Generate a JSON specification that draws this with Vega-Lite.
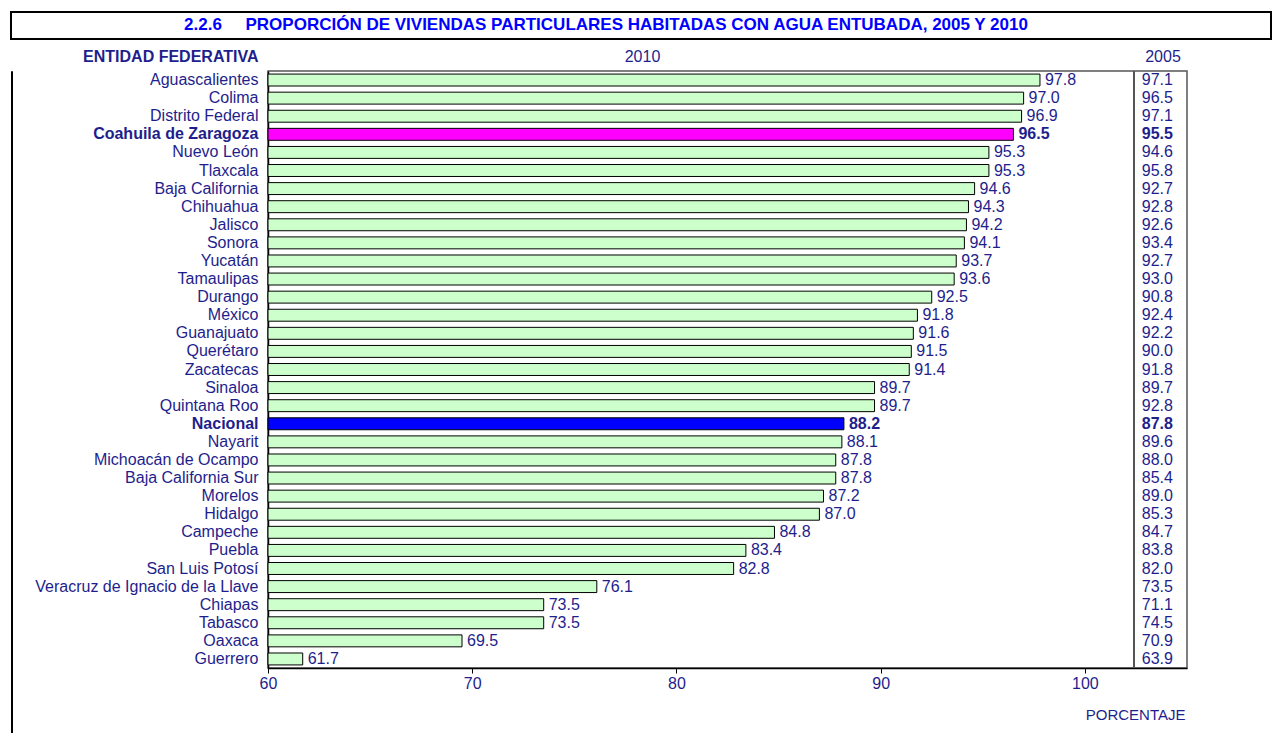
{
  "$schema": "https://vega.github.io/schema/vega-lite/v6.json",
  "padding": {"left": 10, "top": 11, "right": 0, "bottom": 0},
  "config": {"font": "Liberation Sans", "text": {"font": "Liberation Sans"}},
  "datasets": {
    "titulo": [{"t": "2.2.6\u00a0\u00a0\u00a0\u00a0 PROPORCIÓN DE VIVIENDAS PARTICULARES HABITADAS CON AGUA ENTUBADA, 2005 Y 2010"}],
    "vacio": [],
    "agua": [
      {"entidad": "Aguascalientes", "v2010": 97.8, "v2005": 97.1, "tipo": "estado"},
      {"entidad": "Colima", "v2010": 97.0, "v2005": 96.5, "tipo": "estado"},
      {"entidad": "Distrito Federal", "v2010": 96.9, "v2005": 97.1, "tipo": "estado"},
      {"entidad": "Coahuila de Zaragoza", "v2010": 96.5, "v2005": 95.5, "tipo": "coahuila"},
      {"entidad": "Nuevo León", "v2010": 95.3, "v2005": 94.6, "tipo": "estado"},
      {"entidad": "Tlaxcala", "v2010": 95.3, "v2005": 95.8, "tipo": "estado"},
      {"entidad": "Baja California", "v2010": 94.6, "v2005": 92.7, "tipo": "estado"},
      {"entidad": "Chihuahua", "v2010": 94.3, "v2005": 92.8, "tipo": "estado"},
      {"entidad": "Jalisco", "v2010": 94.2, "v2005": 92.6, "tipo": "estado"},
      {"entidad": "Sonora", "v2010": 94.1, "v2005": 93.4, "tipo": "estado"},
      {"entidad": "Yucatán", "v2010": 93.7, "v2005": 92.7, "tipo": "estado"},
      {"entidad": "Tamaulipas", "v2010": 93.6, "v2005": 93.0, "tipo": "estado"},
      {"entidad": "Durango", "v2010": 92.5, "v2005": 90.8, "tipo": "estado"},
      {"entidad": "México", "v2010": 91.8, "v2005": 92.4, "tipo": "estado"},
      {"entidad": "Guanajuato", "v2010": 91.6, "v2005": 92.2, "tipo": "estado"},
      {"entidad": "Querétaro", "v2010": 91.5, "v2005": 90.0, "tipo": "estado"},
      {"entidad": "Zacatecas", "v2010": 91.4, "v2005": 91.8, "tipo": "estado"},
      {"entidad": "Sinaloa", "v2010": 89.7, "v2005": 89.7, "tipo": "estado"},
      {"entidad": "Quintana Roo", "v2010": 89.7, "v2005": 92.8, "tipo": "estado"},
      {"entidad": "Nacional", "v2010": 88.2, "v2005": 87.8, "tipo": "nacional"},
      {"entidad": "Nayarit", "v2010": 88.1, "v2005": 89.6, "tipo": "estado"},
      {"entidad": "Michoacán de Ocampo", "v2010": 87.8, "v2005": 88.0, "tipo": "estado"},
      {"entidad": "Baja California Sur", "v2010": 87.8, "v2005": 85.4, "tipo": "estado"},
      {"entidad": "Morelos", "v2010": 87.2, "v2005": 89.0, "tipo": "estado"},
      {"entidad": "Hidalgo", "v2010": 87.0, "v2005": 85.3, "tipo": "estado"},
      {"entidad": "Campeche", "v2010": 84.8, "v2005": 84.7, "tipo": "estado"},
      {"entidad": "Puebla", "v2010": 83.4, "v2005": 83.8, "tipo": "estado"},
      {"entidad": "San Luis Potosí", "v2010": 82.8, "v2005": 82.0, "tipo": "estado"},
      {"entidad": "Veracruz de Ignacio de la Llave", "v2010": 76.1, "v2005": 73.5, "tipo": "estado"},
      {"entidad": "Chiapas", "v2010": 73.5, "v2005": 71.1, "tipo": "estado"},
      {"entidad": "Tabasco", "v2010": 73.5, "v2005": 74.5, "tipo": "estado"},
      {"entidad": "Oaxaca", "v2010": 69.5, "v2005": 70.9, "tipo": "estado"},
      {"entidad": "Guerrero", "v2010": 61.7, "v2005": 63.9, "tipo": "estado"}
    ]
  },
  "spacing": 7,
  "vconcat": [
    {
      "width": 1260,
      "height": 27,
      "view": {"stroke": "black", "strokeWidth": 2},
      "data": {"name": "titulo"},
      "mark": {"type": "text", "fontSize": 17, "fontWeight": "bold", "color": "#0000FF", "dx": -35, "dy": -1, "align": "center", "baseline": "middle"},
      "encoding": {"text": {"field": "t", "type": "nominal"}}
    },
    {
      "spacing": 20,
      "hconcat": [
        {
          "width": 1,
          "height": 680,
          "view": {"stroke": "black", "strokeWidth": 1},
          "data": {"name": "vacio"},
          "mark": "point"
        },
        {
          "width": 919,
          "height": 597,
          "view": {"stroke": "#555555", "strokeWidth": 1.5},
          "data": {"name": "agua"},
          "resolve": {"axis": {"x": "independent", "y": "independent"}},
          "layer": [
            {
              "mark": {"type": "bar", "stroke": "black", "strokeWidth": 1},
              "encoding": {
                "y": {
                  "field": "entidad", "type": "nominal", "sort": null,
                  "scale": {"paddingInner": 0.34, "paddingOuter": 0.17},
                  "axis": {
                    "orient": "left", "domain": true, "domainColor": "black", "domainWidth": 1.5,
                    "ticks": false, "tickSize": 0, "labelPadding": 10, "labelLimit": 400,
                    "labelFontSize": 16, "labelColor": "#1E1E8C",
                    "labelFontWeight": {"expr": "datum.value === 'Nacional' || datum.value === 'Coahuila de Zaragoza' ? 'bold' : 'normal'"},
                    "title": "ENTIDAD FEDERATIVA", "titleAngle": 0, "titleAlign": "right", "titleBaseline": "middle",
                    "titleX": -10, "titleY": -15, "titleFontSize": 16, "titleColor": "#1E1E8C", "titleFontWeight": "bold"
                  }
                },
                "x": {
                  "field": "v2010", "type": "quantitative",
                  "scale": {"domain": [60, 105], "nice": false, "zero": false},
                  "axis": {
                    "orient": "bottom", "values": [60, 70, 80, 90, 100], "grid": false,
                    "domainColor": "black", "domainWidth": 1.5, "tickColor": "black", "tickSize": 5,
                    "labelFontSize": 16, "labelColor": "#1E1E8C", "labelPadding": 2, "labelFlush": false,
                    "title": "PORCENTAJE", "titleX": 917, "titleY": 46, "titleAlign": "right", "titleBaseline": "middle",
                    "titleFontSize": 15, "titleFontWeight": "normal", "titleColor": "#1E1E8C"
                  }
                },
                "x2": {"datum": 60},
                "color": {
                  "field": "tipo", "type": "nominal",
                  "scale": {"domain": ["estado", "coahuila", "nacional"], "range": ["#CCFFCC", "#FF00FF", "#0000FF"]},
                  "legend": null
                }
              }
            },
            {
              "transform": [{"filter": "datum.tipo === 'estado'"}],
              "mark": {"type": "text", "align": "left", "baseline": "middle", "dx": 5, "fontSize": 16, "color": "#1E1E8C"},
              "encoding": {
                "y": {"field": "entidad", "type": "nominal", "sort": null, "axis": null},
                "x": {
                  "field": "v2010", "type": "quantitative",
                  "axis": {
                    "orient": "top", "domain": false, "ticks": false, "tickSize": 0, "grid": false,
                    "values": [103.8], "labelExpr": "'2005'", "labelFlush": false, "labelBaseline": "middle",
                    "labelPadding": 15, "labelFontSize": 16, "labelColor": "#1E1E8C",
                    "title": "2010", "titleX": 374, "titleY": -15, "titleAngle": 0, "titleAlign": "center", "titleBaseline": "middle",
                    "titleFontSize": 16, "titleFontWeight": "normal", "titleColor": "#1E1E8C"
                  }
                },
                "text": {"field": "v2010", "type": "quantitative", "format": ".1f"}
              }
            },
            {
              "transform": [{"filter": "datum.tipo !== 'estado'"}],
              "mark": {"type": "text", "align": "left", "baseline": "middle", "dx": 5, "fontSize": 16, "fontWeight": "bold", "color": "#1E1E8C"},
              "encoding": {
                "y": {"field": "entidad", "type": "nominal", "sort": null, "axis": null},
                "x": {"field": "v2010", "type": "quantitative", "axis": null},
                "text": {"field": "v2010", "type": "quantitative", "format": ".1f"}
              }
            },
            {
              "transform": [{"filter": "datum.tipo === 'estado'"}],
              "mark": {"type": "text", "align": "center", "baseline": "middle", "fontSize": 16, "color": "#1E1E8C"},
              "encoding": {
                "y": {"field": "entidad", "type": "nominal", "sort": null, "axis": null},
                "x": {"datum": 103.55, "type": "quantitative", "axis": null},
                "text": {"field": "v2005", "type": "quantitative", "format": ".1f"}
              }
            },
            {
              "transform": [{"filter": "datum.tipo !== 'estado'"}],
              "mark": {"type": "text", "align": "center", "baseline": "middle", "fontSize": 16, "fontWeight": "bold", "color": "#1E1E8C"},
              "encoding": {
                "y": {"field": "entidad", "type": "nominal", "sort": null, "axis": null},
                "x": {"datum": 103.55, "type": "quantitative", "axis": null},
                "text": {"field": "v2005", "type": "quantitative", "format": ".1f"}
              }
            },
            {
              "mark": {"type": "rule", "color": "#555555", "strokeWidth": 1.5},
              "encoding": {
                "x": {"datum": 102.4, "type": "quantitative", "axis": null}
              }
            }
          ]
        }
      ]
    }
  ]
}
